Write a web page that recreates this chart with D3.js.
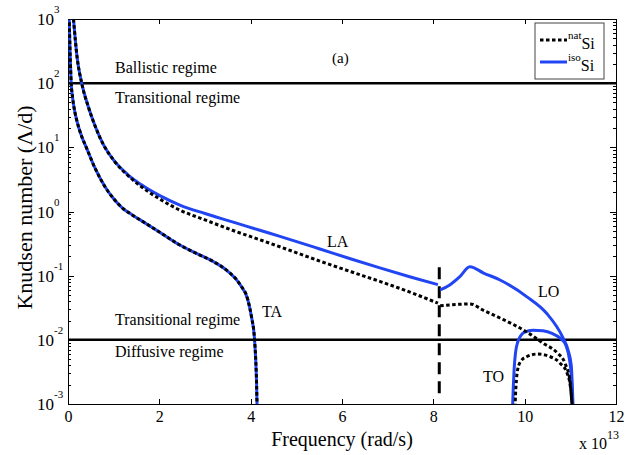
<!DOCTYPE html>
<html>
<head>
<meta charset="utf-8">
<script src="https://cdn.jsdelivr.net/npm/d3@7"></script>
<style>
  html, body { margin: 0; padding: 0; background: #fff; }
  svg { display: block; }
  .axis path, .axis line { stroke: #000; stroke-width: 1; shape-rendering: crispEdges; }
</style>
</head>
<body>
<svg id="chart" width="631" height="455"></svg>
<script>
// Knudsen number (mean free path / film thickness) versus phonon frequency,
// for natural and isotopically pure silicon. Frequencies in units of 1e13 rad/s.

const freqTicks = [0, 2, 4, 6, 8, 10, 12];
const decadeExps = [-3, -2, -1, 0, 1, 2, 3];

// TA branch (natural and isotopic curves coincide)
const taFreq = [0.025, 0.07, 0.1, 0.15, 0.2, 0.3, 0.4, 0.6, 0.8, 1.0, 1.2, 1.4, 1.58, 2.0, 2.45, 2.8, 3.18, 3.5, 3.77, 3.94, 4.02, 4.08, 4.11, 4.13, 4.14];
const taKn   = [1100, 100, 60, 35.5, 25, 14.8, 10, 4.6, 2.5, 1.58, 1.12, 0.89, 0.74, 0.48, 0.30, 0.224, 0.166, 0.117, 0.0724, 0.0417, 0.0224, 0.0112, 0.0050, 0.0020, 0.00089];

// LA branch
const laFreq   = [0.12, 0.2, 0.3, 0.45, 0.6, 0.77, 1.0, 1.3, 1.6, 2.0, 2.45, 3.0, 3.6, 4.2, 4.64, 5.5, 6.2, 6.83, 7.5, 8.1];
const laIsoKn  = [1000, 250, 100, 41.7, 20.9, 11.2, 6.3, 3.8, 2.63, 1.78, 1.26, 0.93, 0.69, 0.51, 0.41, 0.263, 0.182, 0.132, 0.0955, 0.0724];
const laNatKn  = [1000, 250, 100, 41.7, 20.9, 11.2, 6.3, 3.7, 2.45, 1.58, 1.05, 0.74, 0.51, 0.363, 0.282, 0.170, 0.115, 0.0813, 0.055, 0.0372];

// LO branch
const loIsoFreq = [8.15, 8.36, 8.58, 8.8, 9.1, 9.46, 10.05, 10.48, 10.84, 10.95, 11.02, 11.06];
const loIsoKn   = [0.060, 0.0716, 0.0964, 0.138, 0.110, 0.0857, 0.0468, 0.0259, 0.0107, 0.0069, 0.0040, 0.0009];
const loNatFreq = [8.15, 8.5, 8.8, 9.1, 9.46, 10.05, 10.4, 10.71, 10.88, 10.99, 11.04];
const loNatKn   = [0.0339, 0.0355, 0.0363, 0.0288, 0.0219, 0.0132, 0.0089, 0.0063, 0.00437, 0.00234, 0.00089];

// TO branch
const toIsoFreq = [9.735, 9.75, 9.77, 9.8, 9.85, 9.92, 10.0, 10.18, 10.4, 10.6, 10.77, 10.9, 10.98, 11.02, 11.05];
const toIsoKn   = [0.00089, 0.00178, 0.00355, 0.00631, 0.00933, 0.01175, 0.01318, 0.01413, 0.0138, 0.01259, 0.01072, 0.00832, 0.00501, 0.00282, 0.00089];
const toNatFreq = [9.79, 9.8, 9.82, 9.85, 9.92, 10.05, 10.27, 10.55, 10.77, 10.93, 11.01, 11.04];
const toNatKn   = [0.00089, 0.00141, 0.0024, 0.00355, 0.00468, 0.0055, 0.006, 0.0055, 0.00437, 0.00302, 0.00166, 0.00089];

// Regime boundaries and the acoustic/optical cut-off
const regimeLimits = [100, 0.01];
const cutoffFreq = 8.13;
const cutoffRange = [0.135, 0.0013];

const serif = '"Liberation Serif", "Times New Roman", serif';
const W = 631, H = 455;
const margin = { top: 19, right: 15, bottom: 51, left: 68 };
const iw = W - margin.left - margin.right;
const ih = H - margin.top - margin.bottom;

const blue = "#2145f2";
const svg = d3.select("#chart");

const x = d3.scaleLinear().domain([0, 12]).range([0, iw]);
const y = d3.scaleLog().domain([1e-3, 1e3]).range([ih, 0]);

const g = svg.append("g").attr("transform", `translate(${margin.left},${margin.top})`);

g.append("clipPath").attr("id", "plotclip")
  .append("rect").attr("x", 0).attr("y", 0).attr("width", iw).attr("height", ih);

// Axes, ticks pointing inward on all four sides
const decades = decadeExps.map(e => Math.pow(10, e));
const minors = [];
decadeExps.slice(0, -1).forEach(e => { for (let k = 2; k <= 9; k++) minors.push(k * Math.pow(10, e)); });

g.append("g").attr("class", "axis").attr("transform", `translate(0,${ih})`)
  .call(d3.axisBottom(x).tickValues(freqTicks).tickSizeInner(-5).tickSizeOuter(0).tickPadding(7).tickFormat(d3.format("d")))
  .call(s => s.attr("font-family", serif).attr("font-size", 16))
  .call(s => s.selectAll("text").attr("fill", "#000"));
g.append("g").attr("class", "axis")
  .call(d3.axisTop(x).tickValues(freqTicks).tickSizeInner(-5).tickSizeOuter(0).tickFormat(""));
g.append("g").attr("class", "axis")
  .call(d3.axisLeft(y).tickValues(decades).tickSizeInner(-6).tickSizeOuter(0).tickFormat(""));
g.append("g").attr("class", "axis")
  .call(d3.axisLeft(y).tickValues(minors).tickSizeInner(-3).tickSizeOuter(0).tickFormat(""))
  .select(".domain").remove();
g.append("g").attr("class", "axis").attr("transform", `translate(${iw},0)`)
  .call(d3.axisRight(y).tickValues(decades).tickSizeInner(-6).tickSizeOuter(0).tickFormat(""));
g.append("g").attr("class", "axis").attr("transform", `translate(${iw},0)`)
  .call(d3.axisRight(y).tickValues(minors).tickSizeInner(-3).tickSizeOuter(0).tickFormat(""))
  .select(".domain").remove();

// Power-of-ten labels on the y axis
const ylab = g.append("g").attr("font-family", serif);
decadeExps.forEach(e => {
  const t = ylab.append("text").attr("x", -31).attr("y", y(Math.pow(10, e)) + 6)
    .attr("text-anchor", "start").attr("font-size", 17);
  t.append("tspan").text("10");
  t.append("tspan").attr("dy", -12).attr("font-size", 11).text(String(e));
});

// Regime boundaries
g.selectAll(".regime").data(regimeLimits).enter().append("line")
  .attr("x1", 0).attr("x2", iw)
  .attr("y1", d => y(d)).attr("y2", d => y(d))
  .attr("stroke", "#000").attr("stroke-width", 2.5);

// Cut-off between acoustic and optical branches
g.append("line")
  .attr("x1", x(cutoffFreq)).attr("x2", x(cutoffFreq))
  .attr("y1", y(cutoffRange[0])).attr("y2", y(cutoffRange[1]))
  .attr("stroke", "#000").attr("stroke-width", 3).attr("stroke-dasharray", "12,7");

const line = d3.line().x(d => x(d[0])).y(d => y(d[1])).curve(d3.curveMonotoneX);
const pairs = (f, k) => f.map((v, i) => [v, k[i]]);

const curves = g.append("g").attr("clip-path", "url(#plotclip)");

const isoSeries = [pairs(taFreq, taKn), pairs(laFreq, laIsoKn), pairs(loIsoFreq, loIsoKn), pairs(toIsoFreq, toIsoKn)];
const natSeries = [pairs(taFreq, taKn), pairs(laFreq, laNatKn), pairs(loNatFreq, loNatKn), pairs(toNatFreq, toNatKn)];

curves.selectAll(".iso").data(isoSeries).enter().append("path")
  .attr("d", line).attr("fill", "none").attr("stroke", blue).attr("stroke-width", 3);
curves.selectAll(".nat").data(natSeries).enter().append("path")
  .attr("d", line).attr("fill", "none").attr("stroke", "#000").attr("stroke-width", 3)
  .attr("stroke-dasharray", "3.5,2.5");

// Annotations
const fs = 16;
const notes = [
  { t: "(a)", x: 264, y: 44, s: 15 },
  { t: "Ballistic regime", x: 47, y: 54, s: fs },
  { t: "Transitional regime", x: 47, y: 84, s: fs },
  { t: "Transitional regime", x: 47, y: 306, s: fs },
  { t: "Diffusive regime", x: 47, y: 338, s: fs },
  { t: "LA", x: 259, y: 228, s: fs },
  { t: "TA", x: 194, y: 298, s: fs },
  { t: "LO", x: 470, y: 278, s: fs },
  { t: "TO", x: 415, y: 363, s: fs }
];
g.selectAll(".note").data(notes).enter().append("text")
  .attr("font-family", serif)
  .attr("x", d => d.x).attr("y", d => d.y).attr("font-size", d => d.s).text(d => d.t);

// Axis titles
svg.append("text").attr("font-family", serif).attr("x", margin.left + iw / 2).attr("y", 446)
  .attr("text-anchor", "middle").attr("font-size", 20).text("Frequency (rad/s)");
svg.append("text").attr("font-family", serif).attr("transform", `translate(32,${margin.top + ih / 2 - 4}) rotate(-90)`)
  .attr("text-anchor", "middle").attr("font-size", 22).text("Knudsen number (Λ/d)");
const mult = svg.append("text").attr("font-family", serif).attr("x", 579).attr("y", 449).attr("font-size", 16);
mult.append("tspan").text("x 10");
mult.append("tspan").attr("dy", -10).attr("font-size", 12).text("13");

// Legend
const lg = svg.append("g").attr("transform", "translate(535,23)").attr("font-family", serif);
lg.append("rect").attr("width", 69).attr("height", 56).attr("fill", "#fff").attr("stroke", "#444").attr("stroke-width", 1);
const legendItems = [
  { sup: "nat", color: "#000", dash: "3.5,2.5", yy: 17 },
  { sup: "iso", color: blue, dash: null, yy: 39 }
];
legendItems.forEach(it => {
  lg.append("line").attr("x1", 5).attr("x2", 32).attr("y1", it.yy).attr("y2", it.yy)
    .attr("stroke", it.color).attr("stroke-width", 3).attr("stroke-dasharray", it.dash);
  const t = lg.append("text").attr("x", 33).attr("y", it.yy + 9).attr("font-size", 16);
  t.append("tspan").attr("font-size", 11).attr("dy", -10).text(it.sup);
  t.append("tspan").attr("dy", 10).text("Si");
});
</script>
</body>
</html>
